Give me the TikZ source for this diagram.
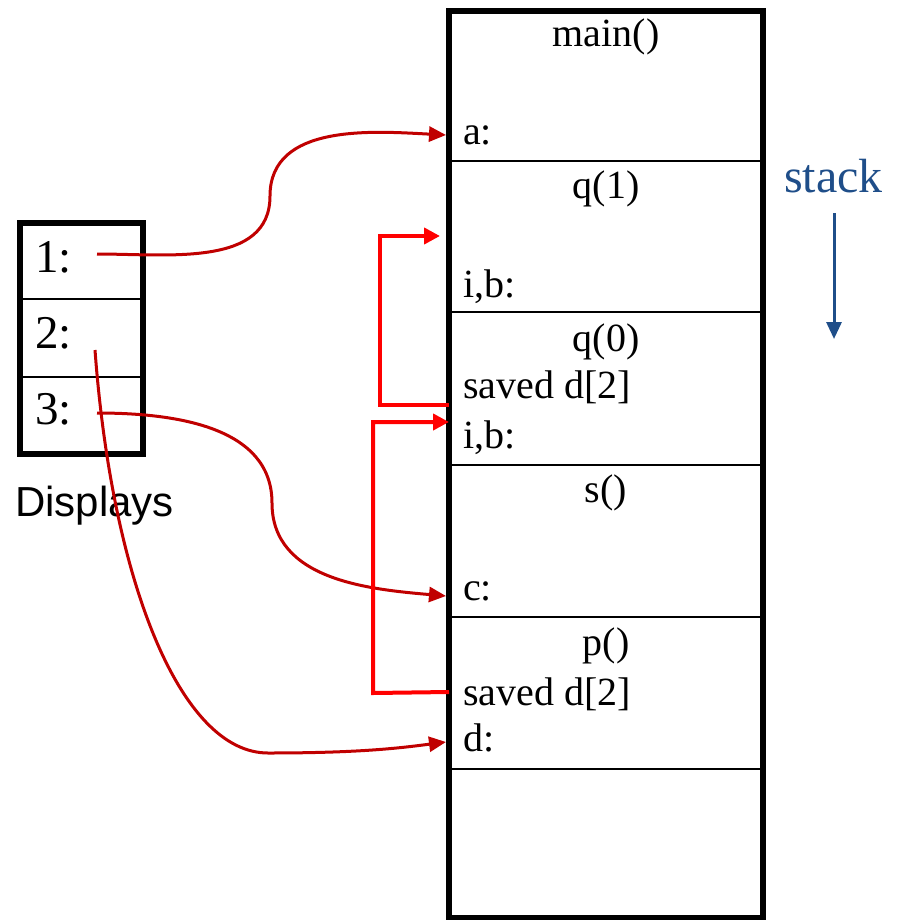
\documentclass[tikz,border=0pt]{standalone}
\usepackage{fontspec}
\setmainfont{Liberation Serif}
\newfontfamily\sansf{Liberation Sans}
\usetikzlibrary{arrows.meta}
\definecolor{darkred}{HTML}{C00000}
\definecolor{brightred}{HTML}{FF0000}
\definecolor{stackblue}{HTML}{1F4E89}
\begin{document}
\begin{tikzpicture}[x=1pt,y=-1pt,
  frame/.style={draw=black, line width=6pt},
  divider/.style={draw=black, line width=2.2pt},
  lbl/.style={font=\fontsize{40}{48}\selectfont, inner sep=0pt, anchor=base west},
  ttl/.style={font=\fontsize{40}{48}\selectfont, inner sep=0pt, anchor=base},
  slot/.style={font=\fontsize{47}{55}\selectfont, inner sep=0pt, anchor=base west},
  link/.style={draw=darkred, line width=3pt, -{Triangle[length=17pt,width=15pt]}},
  savedlink/.style={draw=brightred, line width=4pt, -{Triangle[length=16pt,width=16pt]}},
  dirarrow/.style={draw=stackblue, line width=3pt, -{Triangle[length=17pt,width=15pt]}}]
\useasboundingbox (0,0) rectangle (897,920);
% stack dividers
\foreach \yy in {161,312,465,617,769} \draw[divider] (449,\yy) -- (763,\yy);
\draw[frame] (449,11) rectangle (763,918);
% displays box
\draw[divider] (20,299) -- (143,299);
\draw[divider] (20,377) -- (143,377);
\draw[frame] (20,223) rectangle (143,454);
% stack texts
\node[ttl] (tmain) at (606,47) {main()};
\node[lbl] (la) at (463,145) {a:};
\node[ttl] (tq1) at (606,198) {q(1)};
\node[lbl] (lib1) at (463,297) {i,b:};
\node[ttl] (tq0) at (606,351) {q(0)};
\node[lbl] (lsv1) at (463,398) {saved d[2]};
\node[lbl] (lib2) at (463,448) {i,b:};
\node[ttl] (ts) at (606,502) {s()};
\node[lbl] (lc) at (463,600) {c:};
\node[ttl] (tp) at (606,655) {p()};
\node[lbl] (lsv2) at (463,705) {saved d[2]};
\node[lbl] (ld) at (463,751) {d:};
% displays texts
\node[slot] (n1) at (35,272) {1:};
\node[slot] (n2) at (35,348) {2:};
\node[slot] (n3) at (35,424) {3:};
\node[font=\sansf\fontsize{42}{50}\selectfont, inner sep=0pt, anchor=base west] (disp) at (15,516) {Displays};
% stack label
\node[font=\fontsize{48}{56}\selectfont, text=stackblue, inner sep=0pt, anchor=base west] (stk) at (784,193) {stack};
\coordinate (arrtop) at (834,213);
\coordinate (arrbot) at (834,339);
\draw[dirarrow] (arrtop) -- (arrbot);
% display links
\coordinate (s1) at (97,254);
\coordinate (s2) at (95,350);
\coordinate (s3) at (97,413);
\coordinate (w1) at (270,196);
\coordinate (w3) at (272,503);
\coordinate (w2) at (268,753);
\coordinate (ta) at (446,135);
\coordinate (tc) at (446,596);
\coordinate (td) at (446,742);
\draw[link] (s1) to[out=0,in=-90] (w1) to[out=90,in=177] (ta);
\draw[link] (s3) to[out=0,in=90] (w3) to[out=-90,in=175] (tc);
\draw[link] (s2) .. controls (112,580) and (180,753) .. (w2) .. controls (360,753) and (400,748) .. (td);
% saved display links
\coordinate (sv1) at (449,405);
\coordinate (b1a) at (380,405);
\coordinate (b1b) at (380,236);
\coordinate (tq1arr) at (440,236);
\draw[savedlink] (sv1) -- (b1a) -- (b1b) -- (tq1arr);
\coordinate (sv2) at (449,692);
\coordinate (b2a) at (373,693);
\coordinate (b2b) at (373,422);
\coordinate (tq0arr) at (449,422);
\draw[savedlink] (sv2) -- (b2a) -- (b2b) -- (tq0arr);
\end{tikzpicture}
\end{document}
